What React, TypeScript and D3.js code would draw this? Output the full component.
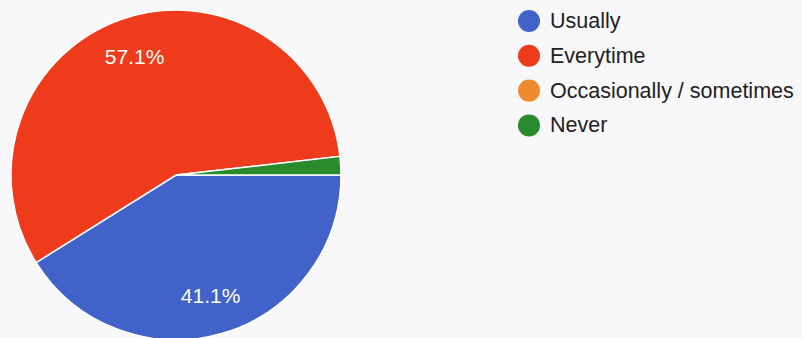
import React from "react";
import * as d3 from "d3";

const categories = ["Usually", "Everytime", "Occasionally / sometimes", "Never"];
const values = [41.1, 57.1, 0, 1.8];
const colors = ["#4163c9", "#ee3b1c", "#f08a2e", "#2a8b2c"];

const W = 802;
const H = 338;
const cx = 176;
const cy = 175;
const R = 165;

export default function App() {
  const data = categories.map((c, i) => ({ c, v: values[i], color: colors[i] }));
  const pie = d3
    .pie<any>()
    .value((d: any) => d.v)
    .sort(null)
    .startAngle(Math.PI / 2)
    .endAngle(Math.PI / 2 + 2 * Math.PI);
  const arcs = pie(data);
  const arc = d3.arc<any>().innerRadius(0).outerRadius(R);
  const labelArc = d3.arc<any>().innerRadius(R * 0.76).outerRadius(R * 0.76);

  return (
    <svg
      width={W}
      height={H}
      style={{ position: "absolute", left: 0, top: 0, background: "#f8f7fa" }}
      fontFamily="'Liberation Sans', Arial, sans-serif"
    >
      <rect x={0} y={0} width={W} height={H} fill="#f8f7fa" />
      <g transform={`translate(${cx},${cy})`}>
        {arcs.map((a, i) =>
          a.data.v > 0 ? (
            <path key={i} d={arc(a) as string} fill={a.data.color} stroke="#ffffff" strokeWidth={1.5} />
          ) : null
        )}
        {arcs.map((a, i) => {
          if (a.data.v < 5) return null;
          const [x, y] = labelArc.centroid(a);
          return (
            <text
              key={"l" + i}
              x={x}
              y={y}
              fill="#ffffff"
              fontSize={21}
              textAnchor="middle"
              dominantBaseline="central"
            >
              {a.data.v.toFixed(1)}%
            </text>
          );
        })}
      </g>
      <g>
        {data.map((d, i) => (
          <g key={"lg" + i} transform={`translate(529,${21 + i * 34.8})`}>
            <circle r={11} fill={d.color} />
            <text x={21} y={0} fontSize={21.5} fill="#222" dominantBaseline="central">
              {d.c}
            </text>
          </g>
        ))}
      </g>
    </svg>
  );
}
